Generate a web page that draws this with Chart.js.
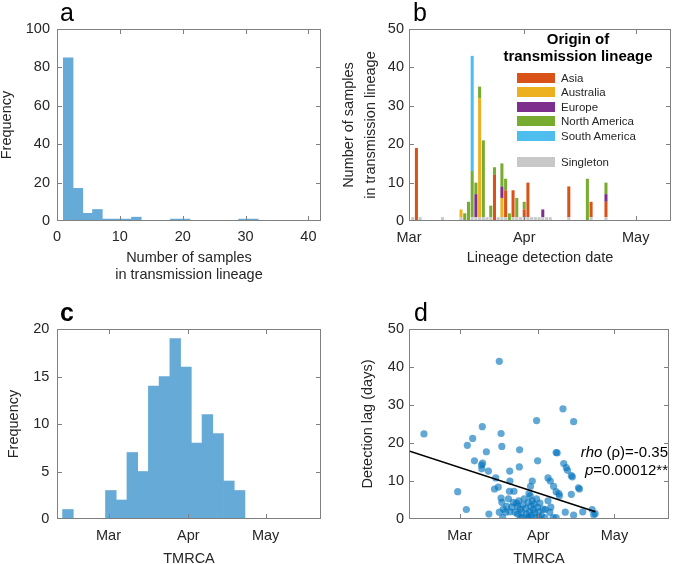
<!DOCTYPE html>
<html>
<head>
<meta charset="utf-8">
<script src="https://cdn.jsdelivr.net/npm/chart.js@4.4.1/dist/chart.umd.min.js"></script>
<style>
  body { margin: 0; background: #fff; font-family: 'Liberation Sans', Arial, Helvetica, sans-serif; color: #262626; }
  #fig { position: relative; width: 673px; height: 564px; overflow: hidden; }
  canvas { position: absolute; }
  .tag { position: absolute; font-size: 25px; line-height: 24px; color: #000; }
  .lg-title { position: absolute; font-size: 15px; line-height: 16.7px; font-weight: bold; color: #000; text-align: center; }
  .lg-item { position: absolute; left: 517px; height: 14px; font-size: 11.5px; line-height: 14px; color: #262626; }
  .lg-item span { position: absolute; left: 0; top: 2px; width: 38px; height: 10px; }
  .lg-item b { position: absolute; left: 44px; top: 0; font-weight: normal; white-space: nowrap; }
  .note { position: absolute; right: 5px; font-size: 15px; line-height: 18px; text-align: right; color: #000; white-space: nowrap; }
</style>
</head>
<body>
<div id="fig">
  <canvas id="chartA" width="336" height="282" style="left:0;top:0"></canvas>
  <canvas id="chartB" width="337" height="282" style="left:336px;top:0"></canvas>
  <canvas id="chartC" width="336" height="282" style="left:0;top:282px"></canvas>
  <canvas id="chartD" width="337" height="282" style="left:336px;top:282px"></canvas>
  <div class="tag" style="left:60px;top:0">a</div>
  <div class="tag" style="left:413px;top:0">b</div>
  <div class="tag" style="left:60px;top:300px;font-weight:bold">c</div>
  <div class="tag" style="left:414px;top:300px">d</div>
  <div class="lg-title" style="left:497px;top:31px;width:162px">Origin of<br>transmission lineage</div>
  <div id="legendB"></div>
  <div class="note" style="top:443px"><i>rho</i> (ρ)=-0.35</div>
  <div class="note" style="top:461px"><i>p</i>=0.00012**</div>
</div>
<script>
// month ticks, days counted from Mar 1
const monthTicks = [0, 31, 61];
const monthLabels = ['Mar', 'Apr', 'May'];

// a: number of samples per transmission lineage
const sizeBinCenters = [1.78, 3.33, 4.88, 6.43, 7.98, 9.53, 11.08, 12.63, 14.18, 15.73, 17.28, 18.83, 20.38, 21.93, 23.48, 25.03, 26.58, 28.13, 29.68, 31.23];
const sizeCounts = [85, 17, 4, 6, 1, 1, 1, 2, 0, 0, 0, 1, 1, 0, 0, 0, 0, 0, 1, 1];

// b: lineage detection date (day), stacked by origin
const originNames = ['Asia', 'Australia', 'Europe', 'North America', 'South America'];
const originColors = ['#d95319', '#edb120', '#7e2f8e', '#77ac30', '#4dbeee'];
const singletonColor = '#c8c8c8';
const singletonDays = [1, 3, 9, 14, 17, 18, 19, 20, 21, 22, 24, 25, 26, 28, 29, 30, 31, 32, 33, 34, 35, 36, 37, 38, 43, 49, 53];
const singletonCounts = [1, 1, 1, 1, 1, 1, 1, 1, 1, 1, 1, 1, 1, 1, 1, 1, 1, 1, 1, 1, 1, 1, 1, 1, 1, 1, 1];
const asiaDays = [2, 23, 26, 28, 31, 32, 43, 49, 53];
const asiaCounts = [19, 12, 7, 7, 2, 9, 8, 4, 4];
const australiaDays = [14, 19, 25];
const australiaCounts = [2, 31, 5];
const europeDays = [18, 25, 36, 53];
const europeCounts = [6, 3, 2, 2];
const northAmericaDays = [15, 16, 17, 18, 19, 20, 22, 23, 25, 26, 27, 29, 31, 48, 53];
const northAmericaCounts = [2, 5, 12, 3, 3, 20, 3, 2, 6, 3, 2, 5, 2, 11, 3];
const southAmericaDays = [17];
const southAmericaCounts = [30];

// c: TMRCA histogram (day)
const tmrcaBinCenters = [-15.75, -11.58, -7.42, -3.25, 0.91, 5.08, 9.24, 13.41, 17.57, 21.74, 25.9, 30.07, 34.23, 38.4, 42.56, 46.73, 50.9];
const tmrcaCounts = [1, 0, 0, 0, 3, 2, 7, 5, 14, 15, 19, 16, 8, 11, 9, 4, 3];

// d: TMRCA (day) vs detection lag (days)
const tmrcaDays = [-14.1, -0.8, 2.6, 3.0, 5.1, 5.8, 8.9, 8.6, 9.0, 8.7, 10.5, 11.5, 11.3, 14.2, 13.7, 15.2, 15.6, 16.3, 16.6, 16.3,
  19.7, 19.8, 23.5, 23.6, 19.6, 21.4, 30.3, 30.7, 27.3, 27.9, 28.6, 34.8, 35.7, 37.0, 38.0, 38.4, 38.0, 39.1, 40.7, 41.0,
  42.0, 42.5, 44.4, 44.0, 44.9, 44.0, 46.8, 47.2, 48.5, 52.2, 53.4, 52.8, 44.9, 38.0, 39.3, 41.6, 33.7, 35.5,
  16.6, 17.2, 15.6, 16.9, 18.5, 18.1, 19.8, 20.5, 21.8, 22.4, 22.8, 23.3, 23.9, 23.9, 24.4, 25.0, 25.4, 26.0, 26.3, 26.7,
  27.0, 27.5, 27.8, 28.0, 28.3, 28.6, 29.0, 29.3, 29.6, 30.0, 30.3, 30.7, 31.2, 31.6, 32.2, 32.9, 33.5, 34.8, 35.9, 36.8,
  21.1, 19.2, 22.8, 24.6, 27.4, 31.3];
const lagDays = [22.4, 7.2, 2.5, 19.4, 21.2, 15.3, 24.3, 14.2, 14.7, 13.2, 17.7, 1.3, 12.6, 10.8, 7.9, 8.4, 41.5, 22.5, 19.1, 5.5,
  12.6, 10.0, 13.7, 18.2, 7.3, 7.3, 25.9, 15.3, 6.7, 8.6, 10.0, 10.8, 10.0, 8.6, 17.5, 17.4, 7.2, 6.7, 29.0, 14.6,
  13.5, 12.8, 11.1, 11.4, 25.6, 6.5, 8.2, 7.9, 1.9, 2.5, 1.4, 1.1, 1.0, 0.4, 6.1, 1.8, 2.5, 1.8,
  4.4, 2.6, 1.8, 0.4, 3.3, 1.8, 1.9, 3.1, 1.8, 4.2, 3.3, 4.8, 2.6, 0.4, 1.8, 3.7, 5.3, 2.8, 1.3, 0.4,
  4.4, 1.9, 6.1, 3.3, 0.9, 4.8, 2.5, 3.9, 1.6, 0.4, 5.3, 3.1, 1.9, 4.2, 0.9, 2.6, 0.4, 4.8, 3.1, 0.4,
  4.4, 5.3, 1.3, 0.4, 0.4, 0.4];
const fitDays = [-20, 53.5];
const fitLag = [17.9, 1.9];

Chart.defaults.font.family = "'Liberation Sans', Arial, Helvetica, sans-serif";
Chart.defaults.font.size = 14.5;
Chart.defaults.color = '#262626';
Chart.defaults.animation = false;
Chart.defaults.plugins.legend.display = false;
Chart.defaults.plugins.tooltip.enabled = false;

const pts = (xs, ys) => xs.map((x, i) => ({ x, y: ys[i] }));

// MATLAB-like box with inward ticks on all four sides
const boxAxes = {
  id: 'boxAxes',
  afterDraw(chart) {
    const ctx = chart.ctx;
    const a = chart.chartArea;
    const x = chart.scales.x, y = chart.scales.y;
    const L = Math.round(a.left), R = Math.round(a.right) - 1;
    const T = Math.round(a.top), B = Math.round(a.bottom) - 1;
    ctx.save();
    ctx.strokeStyle = '#808080';
    ctx.lineWidth = 1;
    ctx.strokeRect(L + 0.5, T + 0.5, R - L, B - T);
    ctx.fillStyle = '#808080';
    x.ticks.forEach(t => {
      const p = Math.round(x.getPixelForValue(t.value));
      ctx.fillRect(p, B - 4, 1, 4);
      ctx.fillRect(p, T + 1, 1, 4);
    });
    y.ticks.forEach(t => {
      const p = Math.min(B, Math.round(y.getPixelForValue(t.value)));
      ctx.fillRect(L + 1, p, 4, 1);
      ctx.fillRect(R - 4, p, 4, 1);
    });
    ctx.restore();
  }
};

function axis(o) {
  return {
    type: 'linear',
    min: o.min,
    max: o.max,
    bounds: 'data',
    offset: false,
    stacked: o.stacked || false,
    grid: { display: false, drawTicks: false, offset: false },
    border: { display: false },
    afterBuildTicks: s => { s.ticks = o.ticks.map(v => ({ value: v })); },
    afterFit: s => {
      if (o.width != null) s.width = o.width;
      if (o.height != null) s.height = o.height;
    },
    ticks: {
      padding: o.pad,
      autoSkip: false,
      maxRotation: 0,
      callback: (v, i) => (o.labels ? o.labels[i] : v)
    },
    title: o.title
  };
}

const histColor = '#66aad7';

// a
new Chart(document.getElementById('chartA'), {
  type: 'bar',
  data: {
    datasets: [{
      data: pts(sizeBinCenters, sizeCounts),
      backgroundColor: histColor,
      borderWidth: 0,
      barPercentage: 1,
      categoryPercentage: 1
    }]
  },
  options: {
    responsive: false,
    layout: { padding: { top: 29, right: 15, left: 0, bottom: 0 } },
    scales: {
      x: axis({ min: 0, max: 42, ticks: [0, 10, 20, 30, 40], height: 61, pad: 7.6,
        title: { display: true, text: ['Number of samples', 'in transmission lineage'], padding: { top: 0, bottom: -2 }, font: { size: 14.5, lineHeight: 1.2 } } }),
      y: axis({ min: 0, max: 100, ticks: [0, 20, 40, 60, 80, 100], width: 57, pad: 7,
        title: { display: true, text: 'Frequency', padding: { top: -2.2, bottom: 0 }, font: { size: 14.5, lineHeight: 1.2 } } })
    }
  },
  plugins: [boxAxes]
});

// b
const stackSets = [
  { label: 'Singleton', days: singletonDays, counts: singletonCounts, color: singletonColor },
  { label: originNames[0], days: asiaDays, counts: asiaCounts, color: originColors[0] },
  { label: originNames[1], days: australiaDays, counts: australiaCounts, color: originColors[1] },
  { label: originNames[2], days: europeDays, counts: europeCounts, color: originColors[2] },
  { label: originNames[3], days: northAmericaDays, counts: northAmericaCounts, color: originColors[3] },
  { label: originNames[4], days: southAmericaDays, counts: southAmericaCounts, color: originColors[4] }
];
new Chart(document.getElementById('chartB'), {
  type: 'bar',
  data: {
    datasets: stackSets.map(s => ({
      label: s.label,
      data: pts(s.days, s.counts),
      backgroundColor: s.color,
      borderWidth: 0,
      barPercentage: 0.82,
      categoryPercentage: 1,
      stack: 'lineage'
    }))
  },
  options: {
    responsive: false,
    layout: { padding: { top: 29, right: 2, left: 0, bottom: 0 } },
    scales: {
      x: axis({ min: 0, max: 70.5, ticks: monthTicks, labels: monthLabels, height: 61, pad: 8.3, stacked: true,
        title: { display: true, text: 'Lineage detection date', padding: { top: 0, bottom: 15 }, font: { size: 14.5, lineHeight: 1.2 } } }),
      y: axis({ min: 0, max: 50, ticks: [0, 10, 20, 30, 40, 50], width: 73, pad: 5, stacked: true,
        title: { display: true, text: ['Number of samples', 'in transmission lineage'], padding: { top: 2.4, bottom: 0 }, font: { size: 14.5, lineHeight: 1.5 } } })
    }
  },
  plugins: [boxAxes]
});

// legend for b
const legendRows = originNames.map((n, i) => ({ name: n, color: originColors[i], y: 77.5 + 14.5 * i }));
legendRows.push({ name: 'Singleton', color: singletonColor, y: 162.3 });
document.getElementById('legendB').innerHTML = legendRows.map(r =>
  `<div class="lg-item" style="top:${r.y - 7}px"><span style="background:${r.color}"></span><b>${r.name}</b></div>`
).join('');

// c
new Chart(document.getElementById('chartC'), {
  type: 'bar',
  data: {
    datasets: [{
      data: pts(tmrcaBinCenters, tmrcaCounts),
      backgroundColor: histColor,
      borderWidth: 0,
      barPercentage: 1,
      categoryPercentage: 1
    }]
  },
  options: {
    responsive: false,
    layout: { padding: { top: 47, right: 15, left: 0, bottom: 0 } },
    scales: {
      x: axis({ min: -20, max: 82.5, ticks: monthTicks, labels: monthLabels, height: 45, pad: 8.3,
        title: { display: true, text: 'TMRCA', padding: { top: 0, bottom: -3.4 }, font: { size: 14.5, lineHeight: 1.2 } } }),
      y: axis({ min: 0, max: 20, ticks: [0, 5, 10, 15, 20], width: 57, pad: 7.7,
        title: { display: true, text: 'Frequency', padding: { top: 5.3, bottom: 0 }, font: { size: 14.5, lineHeight: 1.2 } } })
    }
  },
  plugins: [boxAxes]
});

// d
new Chart(document.getElementById('chartD'), {
  type: 'scatter',
  data: {
    datasets: [
      {
        type: 'line',
        data: pts(fitDays, fitLag),
        borderColor: '#000',
        borderWidth: 1.6,
        pointRadius: 0,
        order: 0
      },
      {
        data: pts(tmrcaDays, lagDays),
        backgroundColor: 'rgba(0,114,189,0.62)',
        borderWidth: 0,
        pointRadius: 3.6,
        order: 1
      }
    ]
  },
  options: {
    responsive: false,
    layout: { padding: { top: 47, right: 2, left: 0, bottom: 0 } },
    scales: {
      x: axis({ min: -20, max: 82.5, ticks: monthTicks, labels: monthLabels, height: 45, pad: 8.3,
        title: { display: true, text: 'TMRCA', padding: { top: 0, bottom: -3.4 }, font: { size: 14.5, lineHeight: 1.2 } } }),
      y: axis({ min: 0, max: 50, ticks: [0, 10, 20, 30, 40, 50], width: 73, pad: 5,
        title: { display: true, text: 'Detection lag (days)', padding: { top: 23, bottom: 0 }, font: { size: 14.5, lineHeight: 1.2 } } })
    }
  },
  plugins: [boxAxes]
});
</script>
</body>
</html>
